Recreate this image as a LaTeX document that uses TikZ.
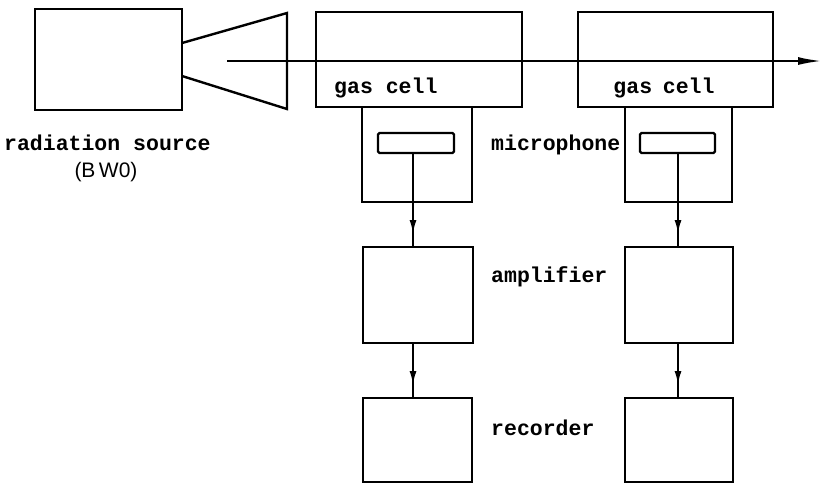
\documentclass[tikz,border=0pt]{standalone}
\usepackage{fontspec}
\setmonofont{Liberation Mono}
\newfontfamily\labsans{Liberation Sans}
\usetikzlibrary{arrows.meta}
\begin{document}
\begin{tikzpicture}[x=1pt,y=-1pt,
  box/.style={draw,line width=2.4pt,rectangle,inner sep=0pt},
  lab/.style={font=\ttfamily\bfseries\fontsize{21.5}{23}\selectfont,inner sep=0pt},
  wire/.style={line width=2.2pt},
  tip/.style={wire,-{Latex[length=14pt,width=7pt]}}]
\useasboundingbox (0,0) rectangle (824,483);
% source
\node[box,minimum width=147pt,minimum height=101pt] (src) at (108.5,59.5) {};
\coordinate (ht) at (287,13);
\coordinate (hb) at (287,109);
\draw[line width=2.4pt,line join=miter] (182,43) -- (ht) -- (hb) -- (182,76);
\node[lab,anchor=west] (srclab) at (4,143) {radiation source};
\node[font=\labsans\fontsize{21}{23}\selectfont,inner sep=0pt] (bwo) at (106,172) {(B\,W0)};
% gas cells
\node[box,minimum width=206pt,minimum height=95pt] (cell1) at (419,59.5) {};
\node[box,minimum width=195pt,minimum height=95pt] (cell2) at (675.5,59.5) {};
\node[lab,anchor=west] (gc1) at (334,88) {gas cell};
\node[lab] (gc2) at (664,88) {gas\,\,\,cell};
% beam
\coordinate (b0) at (227,61);
\coordinate (b1) at (822,61);
\draw[wire,-{Latex[length=24pt,width=8pt]}] (b0) -- (b1);
% microphone housings
\draw[line width=2.4pt] (362,107) -- (362,202) -- (472,202) -- (472,107);
\draw[line width=2.4pt] (625,107) -- (625,202) -- (732,202) -- (732,107);
\node[box,minimum width=76pt,minimum height=20pt,rounded corners=1.5pt] (mic1) at (416,143) {};
\node[box,minimum width=75pt,minimum height=20pt,rounded corners=1.5pt] (mic2) at (677.5,143) {};
\node[lab,anchor=west] (miclab) at (491,145) {microphone};
% amplifiers
\node[box,minimum width=110pt,minimum height=96pt] (amp1) at (418,295) {};
\node[box,minimum width=108pt,minimum height=96pt] (amp2) at (679,295) {};
\node[lab,anchor=west] (amplab) at (491,277) {amplifier};
% recorders
\node[box,minimum width=109pt,minimum height=84pt] (rec1) at (417.5,440) {};
\node[box,minimum width=108pt,minimum height=84pt] (rec2) at (679,440) {};
\node[lab,anchor=west] (reclab) at (491,428) {recorder};
% arrowhead positions
\coordinate (m1) at (413,234);
\coordinate (m2) at (678,234);
\coordinate (m3) at (413,385);
\coordinate (m4) at (678,385);
% connectors
\draw[wire] (mic1.south -| m1) -- (amp1.north -| m1);
\draw[tip] (mic1.south -| m1) -- (m1);
\draw[wire] (mic2.south -| m2) -- (amp2.north -| m2);
\draw[tip] (mic2.south -| m2) -- (m2);
\draw[wire] (amp1.south -| m3) -- (rec1.north -| m3);
\draw[tip] (amp1.south -| m3) -- (m3);
\draw[wire] (amp2.south -| m4) -- (rec2.north -| m4);
\draw[tip] (amp2.south -| m4) -- (m4);
\end{tikzpicture}
\end{document}
